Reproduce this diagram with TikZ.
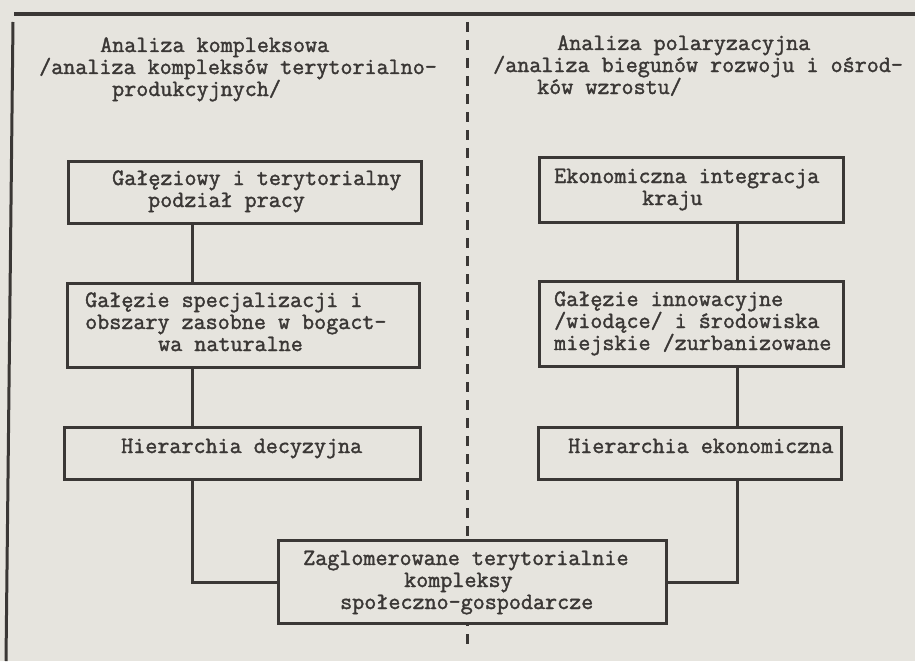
\documentclass[tikz,border=0pt]{standalone}
\usepackage{fontspec}
\setmonofont[FakeBold=1.6]{Latin Modern Mono}
\definecolor{paper}{HTML}{E6E4DE}
\definecolor{inkc}{HTML}{3A3735}
\newcommand\twfont{\ttfamily\fontsize{23.4}{22}\selectfont}
\tikzset{
  ink/.style={draw=inkc, line width=3pt},
  boxnode/.style={ink, fill=paper, inner sep=0pt, anchor=north west},
  txt/.style={anchor=base west, inner sep=0pt, text=inkc, font=\twfont, text height=12pt, text depth=4pt},
  conn/.style={ink},
  divider/.style={draw=inkc, line width=3pt, dash pattern=on 10pt off 8pt},
}
\begin{document}
\begin{tikzpicture}[x=1pt,y=-1pt]
\fill[paper] (0,0) rectangle (915,661);
\useasboundingbox (0,0) rectangle (915,661);
% frame
\coordinate (tl) at (14,14);
\coordinate (tr) at (915,14);
\coordinate (lt) at (13,22);
\coordinate (lb) at (6,661);
\coordinate (dt) at (467,22);
\coordinate (db) at (467,650);
\draw[ink, line width=3.4pt] (tl) -- (tr);
\draw[ink] (lt) -- (lb);
\draw[divider] (dt) -- (db);
% boxes
\node[boxnode, minimum width=353pt, minimum height=62pt] (L1) at (67,160) {};
\node[boxnode, minimum width=352pt, minimum height=84pt] (L2) at (66,282) {};
\node[boxnode, minimum width=356pt, minimum height=52pt] (L3) at (63,426) {};
\node[boxnode, minimum width=304pt, minimum height=65pt] (R1) at (538,156) {};
\node[boxnode, minimum width=304pt, minimum height=85pt] (R2) at (538,280) {};
\node[boxnode, minimum width=303pt, minimum height=52pt] (R3) at (537,426) {};
\node[boxnode, minimum width=388pt, minimum height=83pt] (B) at (277,539) {};
% connector columns
\coordinate (cl) at (192,0);
\coordinate (cr) at (737,0);
\draw[conn] (L1.south -| cl) -- (L2.north -| cl);
\draw[conn] (L2.south -| cl) -- (L3.north -| cl);
\draw[conn] (L3.south -| cl) |- (B.west);
\draw[conn] (R1.south -| cr) -- (R2.north -| cr);
\draw[conn] (R2.south -| cr) -- (R3.north -| cr);
\draw[conn] (R3.south -| cr) |- (B.east);
% headers
\node[txt] (hl1) at (100,52) {Analiza kompleksowa};
\node[txt] (hl2) at (39,74) {/analiza kompleksów terytorialno-};
\node[txt] (hl3) at (112,96) {produkcyjnych/};
\node[txt] (hr1) at (557,50) {Analiza polaryzacyjna};
\node[txt] (hr2) at (493,72) {/analiza biegunów rozwoju i ośrod-};
\node[txt] (hr3) at (537,94) {ków wzrostu/};
% box texts
\node[txt] (t11) at (112,185) {Gałęziowy i terytorialny};
\node[txt] (t12) at (148,207) {podział pracy};
\node[txt] (t21) at (85,307) {Gałęzie specjalizacji i};
\node[txt] (t22) at (85,329) {obszary zasobne w bogact-};
\node[txt] (t23) at (158,351) {wa naturalne};
\node[txt] (t31) at (121,453) {Hierarchia decyzyjna};
\node[txt] (u11) at (554,183) {Ekonomiczna integracja};
\node[txt] (u12) at (642,205) {kraju};
\node[txt] (u21) at (554,306) {Gałęzie innowacyjne};
\node[txt] (u22) at (554,328) {/wiodące/ i środowiska};
\node[txt] (u23) at (554,350) {miejskie /zurbanizowane};
\node[txt] (u31) at (568,453) {Hierarchia ekonomiczna};
\node[txt] (b1) at (303,565) {Zaglomerowane terytorialnie};
\node[txt] (b2) at (404,587) {kompleksy};
\node[txt] (b3) at (340,609) {społeczno-gospodarcze};
\end{tikzpicture}
\end{document}
